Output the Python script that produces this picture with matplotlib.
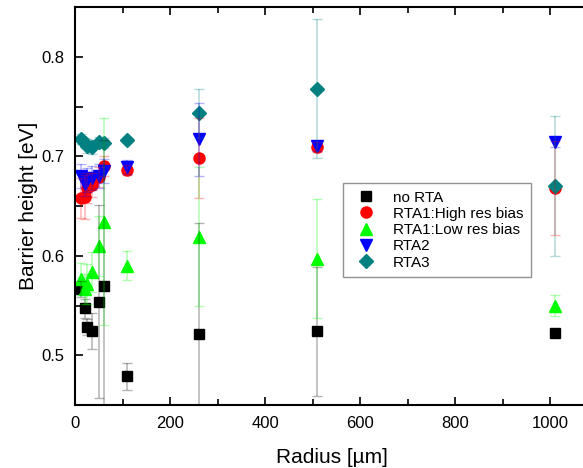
import matplotlib
matplotlib.use("Agg")
import matplotlib.pyplot as plt
from matplotlib.ticker import MultipleLocator

plt.rcParams['font.family'] = ['Liberation Sans', 'DejaVu Sans']

# radius in um, barrier heights in eV
radius = [13, 20, 25, 35, 50, 60, 110, 260, 510, 1010]

no_rta = [0.567, 0.547, 0.528, 0.524, 0.554, 0.570, 0.479, 0.521, 0.524, 0.522]
no_rta_err = [0.008, 0.010, 0.008, 0.018, 0.097, 0.146, 0.0135, 0.112, 0.065, 0.0]

high_bias = [0.658, 0.659, 0.668, 0.671, 0.679, 0.690, 0.686, 0.698, 0.709, 0.668]
high_bias_err = [0.020, 0.022, 0.015, 0.012, 0.010, 0.010, 0.005, 0.040, 0.005, 0.047]

low_bias = [0.577, 0.567, 0.572, 0.584, 0.610, 0.634, 0.590, 0.619, 0.597, 0.550]
low_bias_err = [0.016, 0.015, 0.020, 0.020, 0.030, 0.104, 0.0145, 0.070, 0.060, 0.011]

rta2 = [0.680, 0.672, 0.676, 0.678, 0.680, 0.685, 0.689, 0.717, 0.710, 0.714]
rta2_err = [0.012, 0.012, 0.012, 0.012, 0.012, 0.012, 0.007, 0.037, 0.005, 0.005]

rta3 = [0.717, 0.713, 0.710, 0.709, 0.714, 0.713, 0.716, 0.743, 0.768, 0.670]
rta3_err = [0.005, 0.005, 0.007, 0.007, 0.005, 0.005, 0.003, 0.025, 0.070, 0.070]

series = [
    ("no RTA", no_rta, no_rta_err, "s", "black", 7),
    ("RTA1:High res bias", high_bias, high_bias_err, "o", "red", 8),
    ("RTA1:Low res bias", low_bias, low_bias_err, "^", "#00ff00", 8),
    ("RTA2", rta2, rta2_err, "v", "blue", 8),
    ("RTA3", rta3, rta3_err, "D", "#008080", 7),
]

fig = plt.figure(figsize=(5.83, 4.68), dpi=100)
ax = fig.add_axes([75/583, 63/468, 513/583, 398/468])

# markers first, error bars on top (as in the original export)
for label, y, err, marker, color, ms in series:
    ax.plot(radius, y, linestyle="none", marker=marker, color=color,
            markersize=ms, label=label, zorder=2)
for label, y, err, marker, color, ms in series:
    ax.errorbar(radius, y, yerr=err, fmt="none", ecolor=color, alpha=0.3,
                elinewidth=1.1, capsize=3.5, capthick=1.0, zorder=3)

ax.set_xlim(0, 1080)
ax.set_ylim(0.45, 0.85)
ax.xaxis.set_major_locator(MultipleLocator(200))
ax.xaxis.set_minor_locator(MultipleLocator(100))
ax.yaxis.set_major_locator(MultipleLocator(0.1))
ax.yaxis.set_minor_locator(MultipleLocator(0.05))
ax.tick_params(which="both", direction="in", top=True, right=False,
               labelsize=12, width=1.2)
ax.tick_params(which="major", length=6, pad=8)
ax.tick_params(which="minor", length=4)
ax.tick_params(axis="y", which="minor", length=6)
for s in ax.spines.values():
    s.set_linewidth(1.5)

ax.set_xlabel("Radius [\u00b5m]", fontsize=15, labelpad=12)
ax.set_ylabel("Barrier height [eV]", fontsize=15, labelpad=2)

leg = ax.legend(loc="upper left", bbox_to_anchor=(0.522, 0.558), borderaxespad=0,
                fontsize=11, frameon=True, fancybox=False, handletextpad=0.8,
                labelspacing=0.15, borderpad=0.5)
leg.get_frame().set_edgecolor("#777777")
leg.get_frame().set_linewidth(1.0)

fig.savefig("out.png", dpi=100)
